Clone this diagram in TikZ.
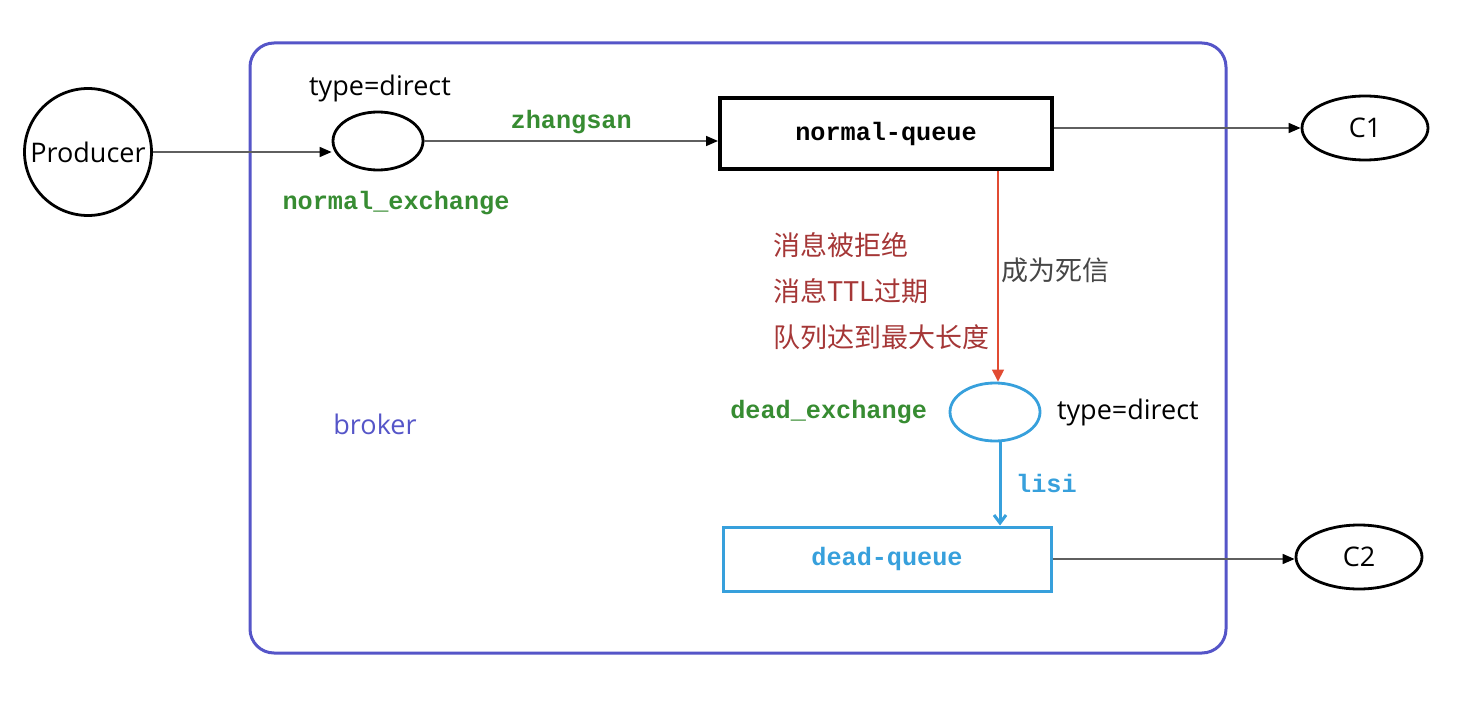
\documentclass[tikz,border=0pt]{standalone}
\usepackage{fontspec}
\setmainfont{Open Sans}
\setmonofont{Liberation Mono}
\newfontfamily\cjk{Noto Sans CJK SC}
\usetikzlibrary{arrows.meta,shapes.geometric}

\definecolor{brokerblue}{RGB}{85,85,200}
\definecolor{exgreen}{RGB}{55,140,50}
\definecolor{deadblue}{RGB}{55,160,220}
\definecolor{reasonred}{RGB}{165,55,55}
\definecolor{deadred}{RGB}{225,75,50}
\definecolor{linegray}{RGB}{95,95,95}
\definecolor{notegray}{RGB}{70,70,70}

\tikzset{
  txt/.style={font=\fontsize{13.5}{16}\selectfont},
  code/.style={font=\fontsize{12.6}{15}\selectfont\ttfamily\bfseries},
  conn/.style={draw=linegray, line width=0.8pt,
    -{Triangle[length=6pt,width=5pt,color=black]}},
  exchange/.style={ellipse, draw, line width=1.4pt, inner sep=0pt,
    minimum width=45pt, minimum height=29pt},
  consumer/.style={exchange, txt, minimum width=63pt, minimum height=32pt},
  queuebox/.style={rectangle, draw, code, inner sep=0pt}
}

\begin{document}
\begin{tikzpicture}[x=0.5pt, y=-0.5pt]
  \useasboundingbox (0,0) rectangle (1468,706);
  % Broker frame.
  \draw[brokerblue, line width=1.5pt, rounded corners=12pt]
    (250,43) rectangle (1226,653);
  \node[txt, text=brokerblue] (broker) at (375,424) {broker};
  % Producer and normal side.
  \node[circle, draw, line width=1.4pt, txt, inner sep=0pt,
        minimum size=63.5pt] (prod) at (88,152) {Producer};
  \node[exchange] (nex) at (378,141) {};
  \node[txt] (ntype) at (380,88) {type=direct};
  \node[code, text=exgreen] (nexname) at (396,203) {normal\_exchange};
  \node[queuebox, line width=2pt, minimum width=166pt, minimum height=35.5pt]
    (nq) at (886,133.5) {normal-queue};
  \node[consumer] (c1) at (1365,128) {C1};
  % Dead letter side.
  \node[exchange, draw=deadblue] (dex) at (995,412) {};
  \node[code, text=exgreen, anchor=east] (dexname) at (934,412) {dead\_exchange};
  \node[txt, anchor=west] (dtype) at (1050,412) {type=direct};
  \node[queuebox, draw=deadblue, text=deadblue, line width=1.5pt,
        minimum width=164pt, minimum height=32pt] (dq) at (887,559) {dead-queue};
  \node[consumer] (c2) at (1359,557) {C2};
  % Reasons for a dead letter.
  \foreach \why [count=\i] in {消息被拒绝, 消息TTL过期, 队列达到最大长度}
    \node[txt, font=\fontsize{13.5}{16}\selectfont\cjk, text=reasonred,
          anchor=west] (why\i) at (766,199+46*\i) {\why};
  \node[txt, font=\fontsize{13.5}{16}\selectfont\cjk, text=notegray]
    (dead) at (1055,270) {成为死信};
  % Connectors.
  \draw[conn] (prod.east) -- (prod.east -| nex.west);
  \draw[conn] (nex.east) -- (nex.east -| nq.west)
    node[midway, above=0pt, code, text=exgreen] (rk1) {zhangsan};
  \draw[conn] (c1.west -| nq.east) -- (c1.west);
  \draw[deadred, line width=0.6pt, -{Triangle[length=6pt,width=6pt]}]
    ([xshift=1.5pt]nq.south -| dex.north) -- ([xshift=1.5pt]dex.north);
  \draw[deadblue, line width=1.5pt, -{Straight Barb[length=4pt,width=6pt]}]
    ([xshift=2.5pt]dex.south) -- ([xshift=2.5pt]dex.south |- dq.north)
    node[midway, right=4pt, code, text=deadblue] (rk2) {lisi};
  \draw[conn] (dq.east) -- (dq.east -| c2.west);
\end{tikzpicture}
\end{document}
